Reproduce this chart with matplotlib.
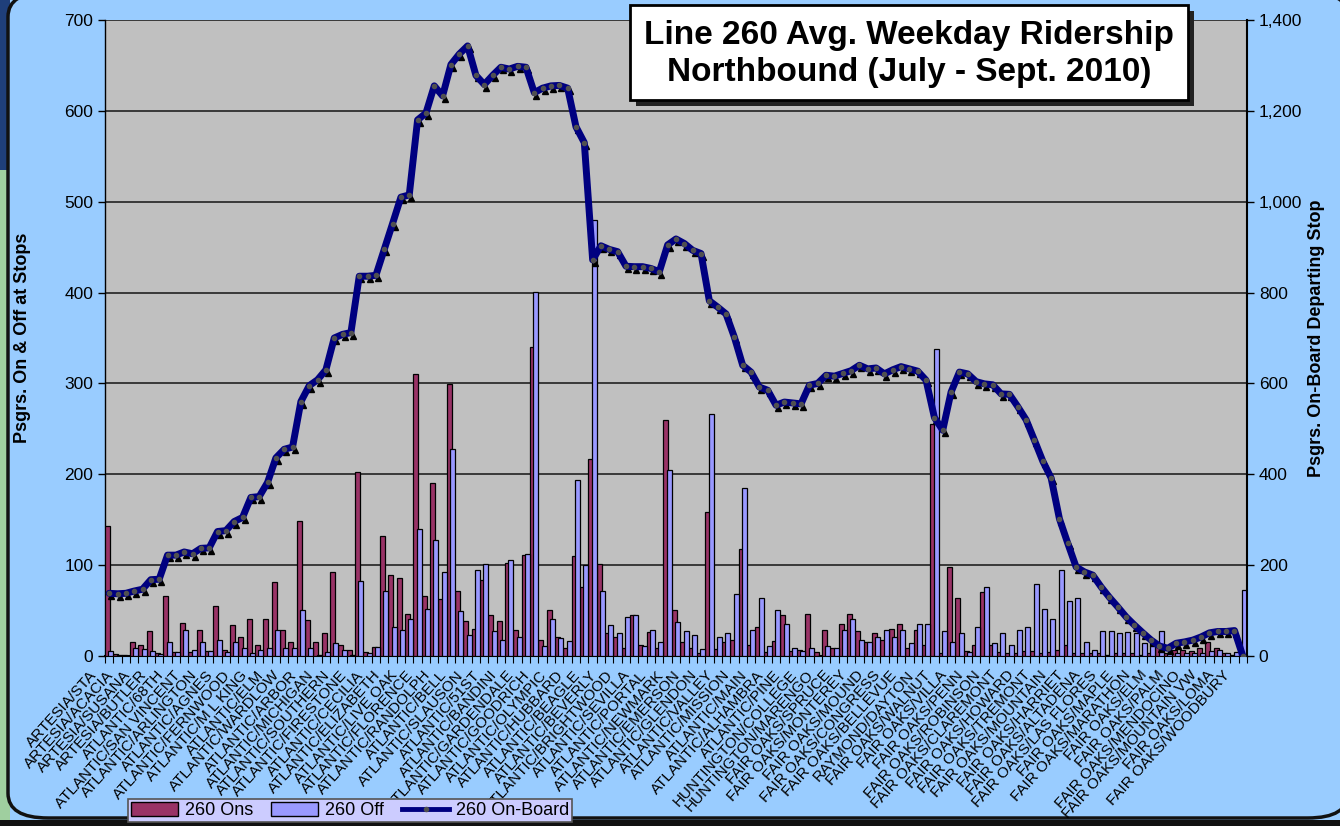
import numpy as np
import matplotlib
matplotlib.use("Agg")
import matplotlib.pyplot as plt
from matplotlib.patches import Rectangle, FancyBboxPatch, Patch
from matplotlib.lines import Line2D
from matplotlib.transforms import ScaledTranslation
from matplotlib.ticker import FuncFormatter

plt.rcParams['font.family'] = ['Liberation Sans', 'DejaVu Sans']

# --- data ------------------------------------------------------------------
stop_labels = [
    'ARTESIA/STA', 'ARTESIA/ACACIA', 'ARTESIA/SUSANA', 'ARTESIA/BUTLER',
    'ATLANTIC/68TH', 'ATLANTIC/SAN VINCENT', 'ATLANTIC/ARLINGTON', 'ATLANTIC/AGNES',
    'ATLANTIC/FERNWOOD', 'ATLANTIC/M L KING', 'ATLANTIC/ELM', 'ATLANTIC/WARDLOW',
    'ATLANTIC/ARBOR', 'ATLANTIC/MICHIGAN', 'ATLANTIC/SOUTHERN', 'ATLANTIC/FIRESTONE',
    'ATLANTIC/CECILIA', 'ATLANTIC/ELIZABETH', 'ATLANTIC/LIVE OAK', 'ATLANTIC/FLORENCE',
    'ATLANTIC/RANDOLPH', 'ATLANTIC/BELL', 'ATLANTIC/SLAUSON', 'ATLANTIC/51ST',
    'ATLANTIC/BANDINI', 'ATLANTIC/GARDENDALE', 'ATLANTIC/GOODRICH', 'ATLANTIC/OLYMPIC',
    'ATLANTIC/HUBBARD', 'ATLANTIC/BEAGLE', 'ATLANTIC/BEVERLY', 'ATLANTIC/BRIGHTWOOD',
    'ATLANTIC/SEVILLA', 'ATLANTIC/PORTAL', 'ATLANTIC/NEWMARK', 'ATLANTIC/EMERSON',
    'ATLANTIC/GLENDON', 'ATLANTIC/VALLEY', 'ATLANTIC/MISSION', 'ATLANTIC/MAIN',
    'ATLANTIC/ALHAMBRA', 'ATLANTIC/PINE', 'HUNTINGTON/COLLEGE', 'HUNTINGTON/MARENGO',
    'FAIR OAKS/SPRUCE', 'FAIR OAKS/MONTEREY', 'FAIR OAKS/MOUND', 'FAIR OAKS/CONGRESS',
    'FAIR OAKS/BELLEVUE', 'RAYMOND/DAYTON', 'FAIR OAKS/WALNUT', 'FAIR OAKS/VILLA',
    'FAIR OAKS/PENN', 'FAIR OAKS/ROBINSON', 'FAIR OAKS/CLAREMONT', 'FAIR OAKS/HOWARD',
    'FAIR OAKS/TREMONT', 'FAIR OAKS/MOUNTAIN', 'FAIR OAKS/HARRIET', 'FAIR OAKS/ALTADENA',
    'FAIR OAKS/LAS FLORES', 'FAIR OAKS/MAPLE', 'FAIR OAKS/MARATHON', 'FAIR OAKS/ELM',
    'FAIR OAKS/PALM', 'FAIR OAKS/MENDOCINO', 'FAIR OAKS/MOUNTAIN VW', 'FAIR OAKS/LOMA',
    'FAIR OAKS/WOODBURY']

ons = [143, 2, 1, 15, 12, 27, 3, 66, 4, 36,
       4, 29, 6, 55, 7, 34, 21, 41, 12, 41,
       81, 29, 15, 149, 40, 15, 25, 92, 12, 7,
       203, 4, 10, 132, 89, 86, 46, 310, 66, 190,
       63, 299, 72, 38, 30, 84, 45, 38, 102, 29,
       111, 340, 18, 51, 21, 9, 110, 76, 217, 101,
       25, 21, 9, 45, 12, 26, 9, 260, 51, 15,
       9, 3, 159, 8, 15, 18, 118, 12, 32, 4,
       17, 45, 6, 7, 46, 4, 29, 9, 35, 46,
       27, 15, 25, 18, 30, 35, 9, 29, 12, 255,
       3, 98, 64, 6, 12, 70, 12, 4, 3, 3,
       6, 6, 3, 4, 7, 12, 3, 3, 3, 3,
       1, 3, 3, 3, 1, 3, 14, 3, 7, 7,
       6, 9, 15, 9, 3, 1, 0]

offs = [6, 1, 0, 9, 8, 6, 2, 15, 4, 29,
        7, 15, 6, 18, 4, 15, 9, 3, 7, 9,
        29, 9, 9, 51, 9, 1, 4, 14, 7, 1,
        83, 3, 10, 71, 32, 29, 41, 140, 52, 128,
        92, 228, 49, 23, 95, 101, 28, 18, 106, 21,
        112, 401, 11, 41, 20, 16, 194, 100, 480, 71,
        34, 25, 43, 45, 11, 29, 15, 205, 37, 27,
        23, 8, 266, 21, 25, 68, 185, 29, 64, 11,
        51, 35, 9, 6, 9, 0, 11, 9, 29, 41,
        18, 15, 21, 29, 21, 29, 14, 35, 35, 338,
        27, 15, 25, 4, 32, 76, 14, 25, 12, 29,
        32, 79, 52, 41, 95, 60, 64, 15, 7, 27,
        27, 25, 26, 25, 14, 15, 27, 3, 3, 3,
        3, 3, 6, 7, 3, 4, 73]

onboard = [138, 137, 138, 143, 147, 168, 169, 222, 222, 229,
           225, 237, 238, 274, 276, 296, 305, 349, 351, 382,
           436, 455, 460, 560, 595, 608, 630, 700, 708, 712,
           836, 836, 838, 895, 952, 1010, 1015, 1180, 1195, 1255,
           1233, 1302, 1325, 1343, 1278, 1258, 1278, 1296, 1292, 1298,
           1296, 1240, 1250, 1255, 1256, 1250, 1165, 1130, 872, 903,
           895, 890, 858, 857, 857, 853, 846, 905, 918, 908,
           893, 886, 782, 768, 753, 702, 640, 625, 592, 585,
           552, 559, 557, 555, 596, 600, 618, 616, 622, 628,
           640, 632, 634, 621, 630, 637, 632, 627, 607, 525,
           497, 581, 625, 621, 604, 599, 597, 577, 576, 549,
           520, 475, 429, 392, 302, 248, 196, 185, 178, 152,
           129, 108, 86, 68, 51, 35, 22, 17, 28, 31,
           35, 42, 51, 54, 54, 56, 0]

ON_COL = '#993366'
OFF_COL = '#9999FF'
LINE_COL = '#000080'
BG = '#99CCFF'

W, H = 1340, 826
fig = plt.figure(figsize=(W / 100, H / 100), dpi=100)
fig.patch.set_facecolor(BG)

# ---- outer frame decoration (behind the axes) ----
fig.patches.append(Rectangle((0, 0), 10 / W, 656 / H, transform=fig.transFigure,
                             facecolor='#9FCF9F', edgecolor='none', zorder=-3))
fig.patches.append(Rectangle((0, 656 / H), 10 / W, 170 / H, transform=fig.transFigure,
                             facecolor='#1F3F7A', edgecolor='none', zorder=-3))
fig.patches.append(FancyBboxPatch((8 / W, 8 / H), 1.0, 1.0, transform=fig.transFigure,
                                  boxstyle='round,pad=0,rounding_size=0.03',
                                  facecolor=BG, edgecolor='#111111', linewidth=2.5,
                                  zorder=-2))
fig.patches.append(Rectangle((0, 0), 1, 6 / H, transform=fig.transFigure,
                             facecolor='#111111', edgecolor='none', zorder=-1))

# ---- axes ----
ax = fig.add_axes([105 / W, (H - 656) / H, 1142 / W, 636 / H])
ax.set_facecolor('#C0C0C0')
n = len(ons)
x = np.arange(n)

ax.bar(x - 0.2, ons, width=0.6, color=ON_COL, edgecolor='black', linewidth=0.9, zorder=3)
ax.bar(x + 0.2, offs, width=0.6, color=OFF_COL, edgecolor='black', linewidth=0.9, zorder=4)

ax.set_xlim(-0.5, n - 0.5)
ax.set_ylim(0, 700)
ax.set_yticks(np.arange(0, 701, 100))
ax.yaxis.grid(True, color='#222222', linewidth=1.2, zorder=1)
ax.set_axisbelow(True)
ax.tick_params(axis='y', labelsize=12.5, length=5, width=1, direction='out')
ax.set_ylabel('Psgrs. On & Off at Stops', fontsize=13, fontweight='bold', labelpad=24)

ax.set_xticks(np.arange(-0.5, n, 1))
ax.set_xticklabels([])
ax.tick_params(axis='x', length=5, width=0.8, direction='out')
ax.spines['top'].set_visible(False)
ax.spines['bottom'].set_linewidth(1.5)
ax.spines['left'].set_linewidth(1.0)
ax.spines['right'].set_visible(False)

# rotated stop labels on every other stop
offset = ScaledTranslation(-0.2, -0.12, fig.dpi_scale_trans)
for i, lab in enumerate(stop_labels):
    ax.text(x[2 * i], 0, lab, transform=ax.get_xaxis_transform() + offset,
            rotation=48, ha='right', va='top', rotation_mode='anchor',
            fontsize=11, color='black', clip_on=False)

# on-board line on right axis
ax2 = ax.twinx()
ax2.set_ylim(0, 1400)
ax2.set_yticks(np.arange(0, 1401, 200))
ax2.yaxis.set_major_formatter(FuncFormatter(lambda v, p: f'{int(v):,}'))
ax2.tick_params(axis='y', labelsize=12.5, length=5, width=1, direction='out')
ax2.set_ylabel('Psgrs. On-Board Departing Stop', fontsize=13, fontweight='bold', labelpad=4)
for s in ('top', 'left', 'bottom'):
    ax2.spines[s].set_visible(False)
ax2.spines['right'].set_linewidth(1.5)

shadow = ScaledTranslation(0.02, -0.03, fig.dpi_scale_trans)
ax2.plot(x, onboard, linestyle='none', marker='^', markersize=4, color='black',
         transform=ax2.transData + shadow, zorder=4)
ax2.plot(x, onboard, color=LINE_COL, linewidth=5, solid_joinstyle='round',
         solid_capstyle='round', zorder=5)
ax2.plot(x, onboard, linestyle='none', marker='o', markersize=3, color='#505050', zorder=6)

# title box
fig.patches.append(Rectangle((636 / W, (H - 106) / H), 558 / W, 95 / H, transform=fig.transFigure,
                             facecolor='#222222', edgecolor='none', zorder=5))
fig.patches.append(Rectangle((630 / W, (H - 100) / H), 558 / W, 95 / H, transform=fig.transFigure,
                             facecolor='white', edgecolor='black', linewidth=2, zorder=6))
fig.text(909 / W, (H - 54) / H, 'Line 260 Avg. Weekday Ridership\nNorthbound (July - Sept. 2010)',
         ha='center', va='center', fontsize=24, fontweight='bold', linespacing=1.25, zorder=7)

# legend
handles = [Patch(facecolor=ON_COL, edgecolor='black', linewidth=1),
           Patch(facecolor=OFF_COL, edgecolor='black', linewidth=1),
           Line2D([], [], color=LINE_COL, linewidth=3.5, marker='o', markersize=3,
                  markerfacecolor='#505050', markeredgecolor='#505050')]
leg = fig.legend(handles, ['260 Ons', '260 Off', '260 On-Board'], ncol=3,
                 loc='lower left', bbox_to_anchor=(128 / W, 4 / H), borderaxespad=0,
                 fontsize=13, frameon=True, fancybox=False, facecolor='#CCCCFF',
                 edgecolor='#555555', framealpha=1, handlelength=2.6, handleheight=0.8,
                 columnspacing=1.0, borderpad=0.15, handletextpad=0.4)
leg.get_frame().set_linewidth(1.2)

fig.savefig('out.png', dpi=100, facecolor=fig.get_facecolor())
